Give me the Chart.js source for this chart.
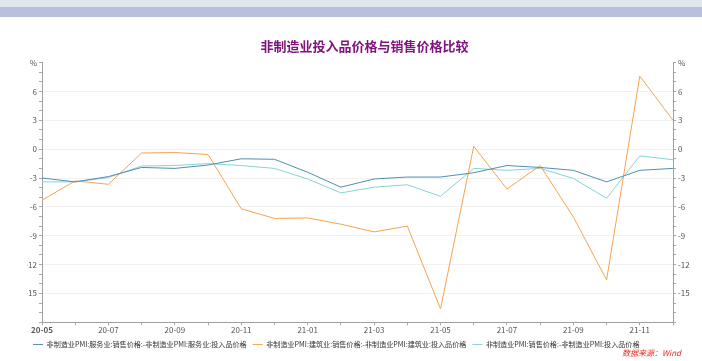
<!DOCTYPE html>
<html>
<head>
<meta charset="utf-8">
<script src="https://cdn.jsdelivr.net/npm/chart.js@4.4.0/dist/chart.umd.min.js"></script>
<style>
  body { margin: 0; background: #fff; }
  #wrap { position: relative; width: 702px; height: 361px; overflow: hidden; font-family: "Noto Sans CJK SC", sans-serif; }
  #faixa1 { position: absolute; left: 0; top: 0; width: 702px; height: 7px; background: #e2e6ef; }
  #faixa2 { position: absolute; left: 0; top: 7px; width: 702px; height: 10px; background: #b9bfdc; }
  #fonte { position: absolute; left: 622px; top: 347px; color: #e8281e; font-size: 8px; font-style: italic; }
  canvas { position: absolute; left: 0; top: 0; }
</style>
</head>
<body>
<div id="wrap">
  <div id="faixa1"></div>
  <div id="faixa2"></div>
  <canvas id="grafico" width="702" height="361"></canvas>
  <div id="fonte">数据来源：Wind</div>
</div>
<script>
const meses = ["20-05", "20-06", "20-07", "20-08", "20-09", "20-10", "20-11", "20-12",
  "21-01", "21-02", "21-03", "21-04", "21-05", "21-06", "21-07", "21-08", "21-09", "21-10", "21-11", "21-12"];

// 销售价格 - 投入品价格 (%)
const servicos = [-3.0, -3.4, -2.85, -1.9, -2.0, -1.65, -1.0, -1.05, -2.4, -3.95,
  -3.1, -2.9, -2.9, -2.45, -1.7, -1.9, -2.2, -3.4, -2.2, -2.0];
const construcao = [-5.3, -3.3, -3.65, -0.4, -0.35, -0.55, -6.2, -7.2, -7.15, -7.8,
  -8.6, -8.0, -16.6, 0.3, -4.15, -1.7, -7.05, -13.6, 7.6, 3.0];
const geral = [-3.4, -3.4, -2.95, -1.75, -1.7, -1.5, -1.7, -2.0, -3.1, -4.55,
  -3.95, -3.7, -4.9, -2.0, -2.2, -2.0, -3.05, -5.1, -0.7, -1.1];

const nomes = [
  "非制造业PMI:服务业:销售价格:-非制造业PMI:服务业:投入品价格",
  "非制造业PMI:建筑业:销售价格:-非制造业PMI:建筑业:投入品价格",
  "非制造业PMI:销售价格:-非制造业PMI:投入品价格"
];
const cores = ["#4f8fb3", "#f7a34f", "#86d3d3"];

const yMin = -18;
const yMax = 9;

const fonteTxt = "'Noto Sans CJK SC', sans-serif";

function rotuloY(v) {
  if (v === yMax) return "%";
  if (v === yMin) return "";
  return v % 3 === 0 ? String(v) : "";
}

function eixoY(posicao, largura) {
  return {
    position: posicao,
    min: yMin,
    max: yMax,
    border: { color: "#a0a0a0", width: 1 },
    grid: {
      drawOnChartArea: posicao === "left",
      color: (c) => (c.tick && c.tick.value % 3 === 0 && c.tick.value !== yMax ? "#f1f1f1" : "rgba(0,0,0,0)"),
      tickColor: "#a8a8a8",
      tickLength: 3,
    },
    ticks: {
      stepSize: 1,
      autoSkip: false,
      padding: 2,
      color: "#555",
      font: { size: 8, family: fonteTxt },
      callback: rotuloY,
    },
    afterFit: (s) => { s.width = largura; },
  };
}

const ctx = document.getElementById("grafico").getContext("2d");
const grafico = new Chart(ctx, {
  type: "line",
  data: {
    labels: meses,
    datasets: [servicos, construcao, geral].map((d, i) => ({
      label: nomes[i],
      data: d,
      borderColor: cores[i],
      backgroundColor: cores[i],
      borderWidth: 1,
      pointRadius: 0,
      tension: 0,
      yAxisID: "y",
    })),
  },
  options: {
    responsive: false,
    animation: false,
    layout: { padding: { left: 27, right: 0, top: 0, bottom: 3 } },
    plugins: {
      title: {
        display: true,
        text: "非制造业投入品价格与销售价格比较",
        color: "#80147f",
        font: { size: 13, weight: "bold", family: fonteTxt },
        padding: { top: 38, bottom: 9 },
      },
      legend: {
        position: "bottom",
        align: "start",
        labels: {
          usePointStyle: true,
          pointStyle: "line",
          pointStyleWidth: 10,
          boxHeight: 7,
          padding: 6,
          color: "#333",
          font: { size: 7.1, family: fonteTxt },
        },
      },
      tooltip: { enabled: false },
    },
    scales: {
      x: {
        offset: false,
        border: { color: "#a0a0a0", width: 1 },
        grid: { drawOnChartArea: false, tickColor: "#a8a8a8", tickLength: 3 },
        ticks: {
          autoSkip: false,
          maxRotation: 0,
          padding: 0,
          color: "#555",
          font: (c) => ({ size: 8, family: fonteTxt, weight: c.index === 0 ? "bold" : "normal" }),
          callback: (v, i) => (i % 2 === 0 ? meses[i] : ""),
        },
      },
      y: eixoY("left", 15),
      y2: eixoY("right", 29),
    },
  },
});
</script>
</body>
</html>
